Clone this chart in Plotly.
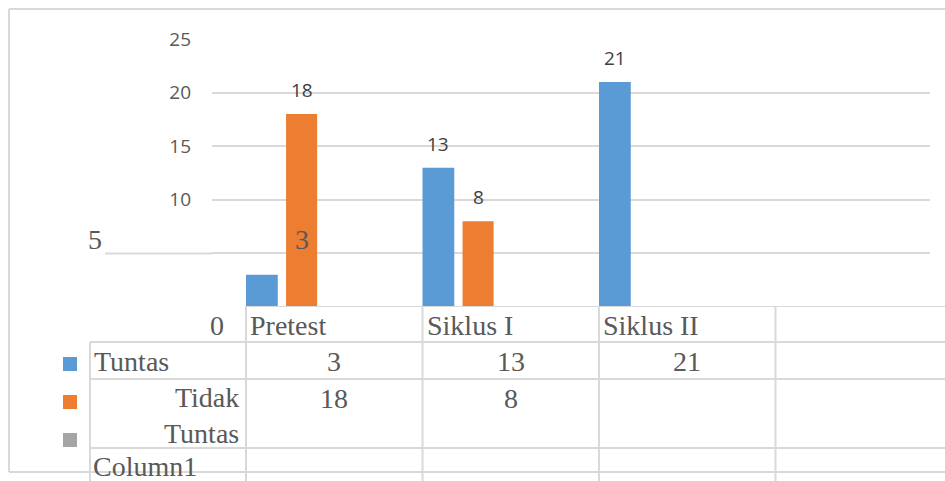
import plotly.graph_objects as go

# ---- data ----
categories = ["Pretest", "Siklus I", "Siklus II"]
tuntas = [3, 13, 21]
tidak_tuntas = [18, 8, None]
series_names = ["Tuntas", "Tidak Tuntas", "Column1"]
y_ticks = [5, 10, 15, 20, 25]
y_tick_text = ["", "10", "15", "20", "25"]

W, H = 945, 481
BLUE, ORANGE, GRAY = "#5b9bd5", "#ed7d31", "#a5a5a5"
GRID = "#d9d9d9"
TXT = "#595959"
SERIF = "Liberation Serif, Times New Roman, serif"
SANS = "Open Sans, Liberation Sans, sans-serif"


def px(x):
    return x / W


def py(y):
    return 1 - y / H


xs = list(range(len(categories)))
blue_off, blue_w = 0.0, 0.18
orng_off, orng_w = 0.227, 0.176

fig = go.Figure()
fig.add_trace(go.Bar(x=xs, y=tuntas, name=series_names[0], marker_color=BLUE,
                     offset=blue_off, width=blue_w, hoverinfo="x+y"))
fig.add_trace(go.Bar(x=xs, y=tidak_tuntas, name=series_names[1], marker_color=ORANGE,
                     offset=orng_off, width=orng_w, hoverinfo="x+y"))

unit = 176.5
x0_px = 246
fig.update_layout(
    template="none",
    width=W, height=H,
    margin=dict(l=0, r=0, t=0, b=0, autoexpand=False),
    paper_bgcolor="white", plot_bgcolor="white",
    barmode="overlay", showlegend=False,
    xaxis=dict(domain=[px(212), px(930)],
               range=[(212 - x0_px) / unit, (930 - x0_px) / unit],
               visible=False, automargin=False),
    yaxis=dict(domain=[py(307), py(39)], range=[0, 25],
               tickvals=y_ticks, ticktext=y_tick_text,
               showgrid=True, gridcolor=GRID, gridwidth=2,
               zeroline=False, showline=False, ticks="",
               ticklabelstandoff=20, automargin=False,
               tickfont=dict(family=SANS, size=19, color=TXT)),
)

shapes = []
line = dict(color=GRID, width=2)
# outer border
shapes.append(dict(type="line", xref="paper", yref="paper", x0=px(9), x1=1.01, y0=py(9), y1=py(9), line=line))
shapes.append(dict(type="line", xref="paper", yref="paper", x0=px(9), x1=px(9), y0=py(9), y1=py(472), line=line))
shapes.append(dict(type="line", xref="paper", yref="paper", x0=px(9), x1=1.01, y0=py(472), y1=py(472), line=line))
# extended gridline for 5
shapes.append(dict(type="line", xref="paper", yref="y", x0=px(105), x1=px(212), y0=y_ticks[0], y1=y_ticks[0], line=line, layer="below"))
# axis line / table top
shapes.append(dict(type="line", xref="paper", yref="y", x0=px(246), x1=1.01, y0=0, y1=0, line=line))
# table horizontal lines
for yy in [342, 379, 448]:
    shapes.append(dict(type="line", xref="paper", yref="paper", x0=px(90), x1=1.01, y0=py(yy), y1=py(yy), line=line))
# table vertical lines
shapes.append(dict(type="line", xref="paper", yref="paper", x0=px(90), x1=px(90), y0=py(342), y1=-0.02, line=line))
for i in range(len(categories) + 1):
    shapes.append(dict(type="line", xref="x", yref="paper", x0=i, x1=i, y0=py(306), y1=-0.02, line=line))
# legend keys
for col, yc in zip([BLUE, ORANGE, GRAY], [364, 402, 440]):
    shapes.append(dict(type="rect", xref="paper", yref="paper", x0=px(63), x1=px(77),
                       y0=py(yc - 7), y1=py(yc + 7), fillcolor=col, line=dict(width=0)))
fig.update_layout(shapes=shapes)

ann = []
# data labels
for i, v in enumerate(tuntas):
    if i == 0:
        ann.append(dict(x=i + orng_off + orng_w / 2, y=v, xref="x", yref="y", text=str(v),
                        showarrow=False, yanchor="middle", yshift=35,
                        font=dict(family=SERIF, size=28, color=TXT)))
    else:
        ann.append(dict(x=i + blue_off + blue_w / 2, y=v, xref="x", yref="y", text=str(v),
                        showarrow=False, yanchor="bottom", yshift=9,
                        font=dict(family=SANS, size=19, color="#404040")))
for i, v in enumerate(tidak_tuntas):
    if v is None:
        continue
    ann.append(dict(x=i + orng_off + orng_w / 2, y=v, xref="x", yref="y", text=str(v),
                    showarrow=False, yanchor="bottom", yshift=9,
                    font=dict(family=SANS, size=19, color="#404040")))

serif = dict(family=SERIF, size=28, color=TXT)
# y labels in serif (5 and 0)
ann.append(dict(x=px(104), y=y_ticks[0], xref="paper", yref="y", text="5", showarrow=False,
                xanchor="right", yanchor="middle", yshift=14, font=serif))
ann.append(dict(x=px(226), y=py(325), xref="paper", yref="paper", text="0", showarrow=False,
                xanchor="right", yanchor="middle", font=serif))
# header row
for i, c in enumerate(categories):
    ann.append(dict(x=i, y=py(325), xref="x", yref="paper", text=c, showarrow=False,
                    xanchor="left", yanchor="middle", xshift=2, font=serif))
# row labels
ann.append(dict(x=px(92), y=py(361), xref="paper", yref="paper", text=series_names[0], showarrow=False,
                xanchor="left", yanchor="middle", font=serif))
ann.append(dict(x=px(241), y=py(415), xref="paper", yref="paper", text="Tidak<br>Tuntas", showarrow=False,
                xanchor="right", yanchor="middle", align="right", font=serif))
ann.append(dict(x=px(91), y=py(466), xref="paper", yref="paper", text=series_names[2], showarrow=False,
                xanchor="left", yanchor="middle", font=serif))
# values
for i, v in enumerate(tuntas):
    ann.append(dict(x=i + 0.5, y=py(361), xref="x", yref="paper", text=str(v), showarrow=False,
                    xanchor="center", yanchor="middle", font=serif))
for i, v in enumerate(tidak_tuntas):
    if v is None:
        continue
    ann.append(dict(x=i + 0.5, y=py(398), xref="x", yref="paper", text=str(v), showarrow=False,
                    xanchor="center", yanchor="middle", font=serif))
fig.update_layout(annotations=ann)

fig.write_html(
    "out.html",
    config={"displayModeBar": False},
    post_script="document.body.style.margin='0';document.body.style.padding='0';"
                "document.body.style.overflow='hidden';"
                "document.documentElement.style.overflow='hidden';",
)
